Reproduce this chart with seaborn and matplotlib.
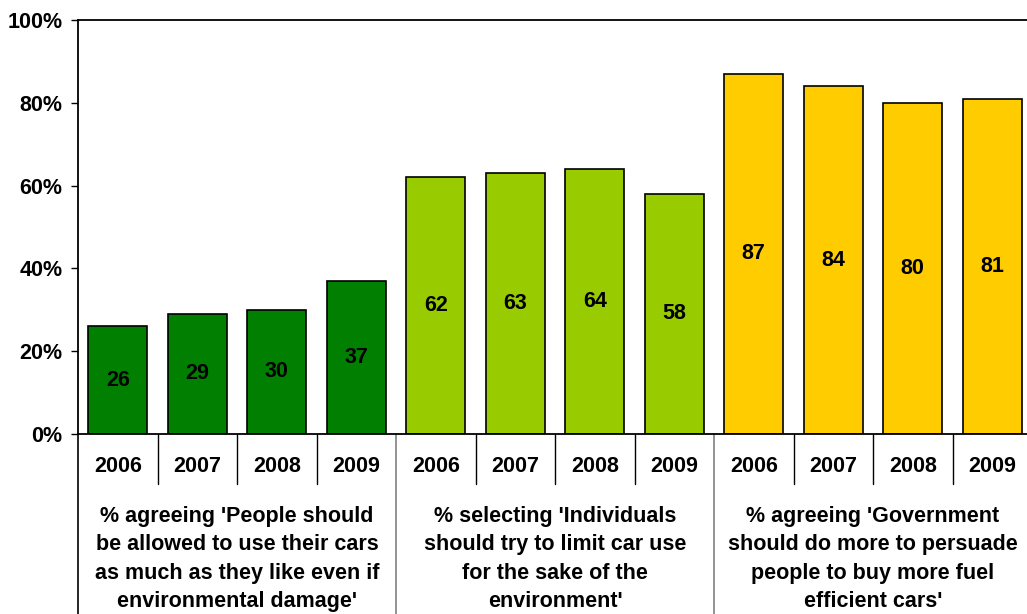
import matplotlib
matplotlib.use("Agg")
import matplotlib.pyplot as plt
import matplotlib.transforms as mtransforms
import numpy as np
import pandas as pd
import seaborn as sns

# Survey results by year for three attitude questions
years = ["2006", "2007", "2008", "2009"]
group_labels = [
    "% agreeing 'People should\nbe allowed to use their cars\nas much as they like even if\nenvironmental damage'",
    "% selecting 'Individuals\nshould try to limit car use\nfor the sake of the\nenvironment'",
    "% agreeing 'Government\nshould do more to persuade\npeople to buy more fuel\nefficient cars'",
]
use_cars_freely = [26, 29, 30, 37]
limit_car_use = [62, 63, 64, 58]
fuel_efficient = [87, 84, 80, 81]
group_colors = ["#007F00", "#99CC00", "#FFCC00"]
y_ticks = [0, 20, 40, 60, 80, 100]

series = [use_cars_freely, limit_car_use, fuel_efficient]
rows = []
for g, vals in enumerate(series):
    for y, v in zip(years, vals):
        rows.append({"slot": f"{g}-{y}", "year": y, "group": f"g{g}", "value": v})
df = pd.DataFrame(rows)
order = list(df["slot"])
palette = {f"g{g}": c for g, c in enumerate(group_colors)}

sns.set_style("white")
plt.rcParams["font.family"] = ["Liberation Sans", "DejaVu Sans"]
plt.rcParams["font.weight"] = "bold"
plt.rcParams["text.color"] = "black"
plt.rcParams["ytick.color"] = "black"
plt.rcParams["xtick.color"] = "black"

fig = plt.figure(figsize=(10.27, 6.14), dpi=100)
ax = fig.add_axes([78 / 1027, 180 / 614, 954 / 1027, 414 / 614])

sns.barplot(data=df, x="slot", y="value", hue="group", order=order,
            palette=palette, dodge=False, width=0.74, edgecolor="black",
            linewidth=1.2, saturation=1, legend=False, ax=ax)

for cont in ax.containers:
    ax.bar_label(cont, fmt="%d", label_type="center", fontsize=15.5,
                 fontweight="bold", color="black")

ax.set_xlim(-0.5, 11.5)
ax.set_ylim(0, 100)
ax.set_yticks(y_ticks)
ax.set_yticklabels([f"{t}%" for t in y_ticks], fontsize=15.5,
                   fontweight="bold", color="black")
ax.set_xticks([])
ax.set_xlabel("")
ax.set_ylabel("")
ax.tick_params(axis="y", left=True, direction="out", length=5, width=1,
               pad=6, color="black")

for side in ["left", "top", "bottom", "right"]:
    ax.spines[side].set_visible(True)
    ax.spines[side].set_color("black")
    ax.spines[side].set_linewidth(1.3)

# Category table beneath the axis
trans = mtransforms.blended_transform_factory(ax.transData, ax.transAxes)
year_row_bottom = -50 / 414
table_bottom = -0.45
for i, slot in enumerate(order):
    ax.text(i, -32 / 414, df["year"][i], transform=trans, ha="center",
            va="center", fontsize=15.5, fontweight="bold", color="black",
            clip_on=False)
for b in range(13):
    xb = b - 0.5
    if b % 4 == 0:
        color = "black" if b == 0 else "#808080"
        ax.plot([xb, xb], [0, table_bottom], transform=trans, color=color,
                lw=1.2, clip_on=False)
    else:
        ax.plot([xb, xb], [0, year_row_bottom], transform=trans,
                color="black", lw=1.0, clip_on=False)

for g, label in enumerate(group_labels):
    ax.text(4 * g + 1.5, -125 / 414, label, transform=trans, ha="center",
            va="center", fontsize=15.5, fontweight="bold", linespacing=1.46,
            color="black", clip_on=False)

fig.savefig("out.png", dpi=100)
